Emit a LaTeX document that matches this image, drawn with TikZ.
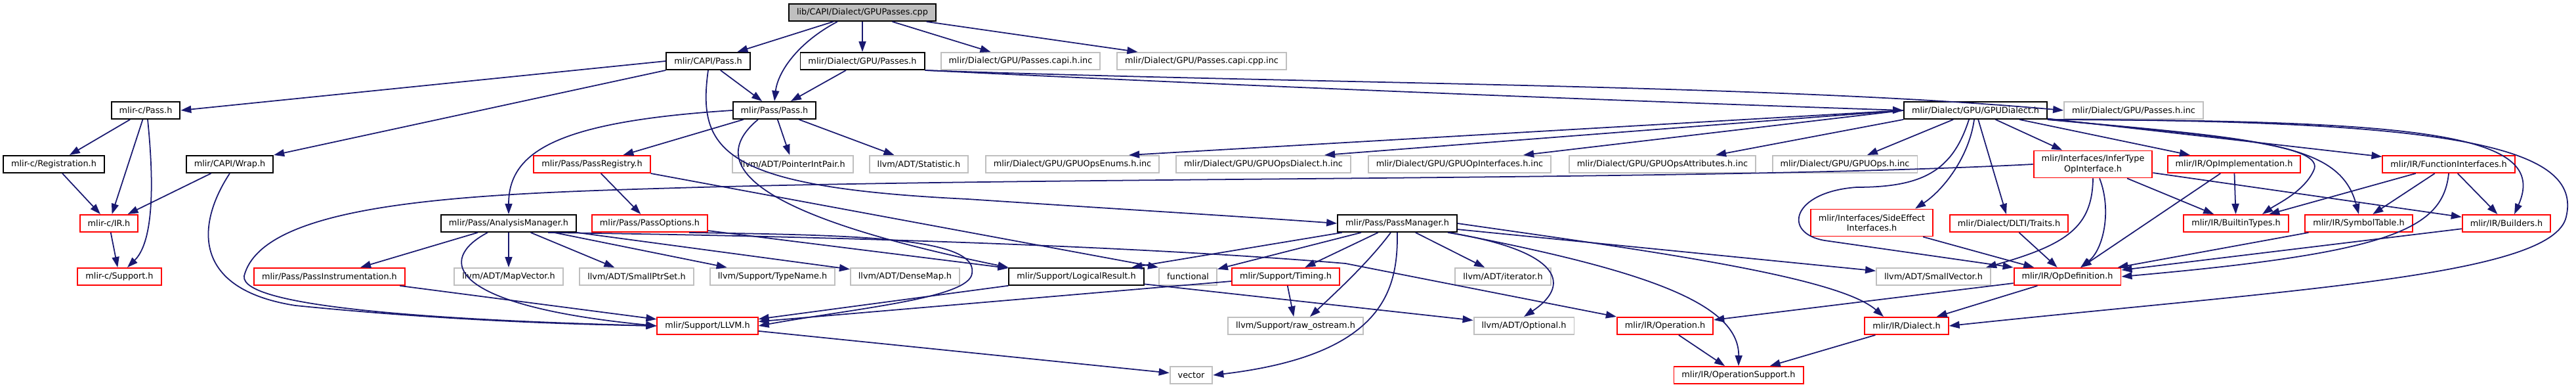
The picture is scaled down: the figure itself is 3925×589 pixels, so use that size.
\documentclass[tikz,border=0pt]{standalone}
\usepackage{fontspec}
\setmainfont{DejaVu Sans}
\usetikzlibrary{arrows.meta}
\definecolor{edgeblue}{HTML}{191970}
\definecolor{boxred}{HTML}{FF0000}
\definecolor{boxgrey}{HTML}{BFBFBF}
\tikzset{
    box_base/.style={rectangle, draw, line width=0.55pt, fill=white, inner xsep=0.12cm, inner ysep=0pt, minimum height=0.26cm, align=center},
    box_black/.style={box_base, draw=black},
    box_red/.style={box_base, draw=boxred},
    box_grey/.style={box_base, draw=boxgrey},
    box_root/.style={box_base, draw=black, fill=boxgrey},
    arrow/.style={-{Triangle[length=1.6mm, width=1.1mm]}, draw=edgeblue, line width=0.5pt}
}
\begin{document}
\begin{tikzpicture}[x=0.01cm, y=-0.01cm, font=\fontsize{3.65pt}{4.3pt}\selectfont]
\useasboundingbox (0,0) rectangle (3925,589);

\node[box_root] (cpp) at (1314,19) {lib/CAPI/Dialect/GPUPasses.cpp};
\node[box_black] (capipass) at (1079,93) {mlir/CAPI/Pass.h};
\node[box_black] (gpupasses) at (1314,93) {mlir/Dialect/GPU/Passes.h};
\node[box_grey] (capih) at (1555,93) {mlir/Dialect/GPU/Passes.capi.h.inc};
\node[box_grey] (capicpp) at (1831,93) {mlir/Dialect/GPU/Passes.capi.cpp.inc};
\node[box_black] (cpass) at (222,168) {mlir-c/Pass.h};
\node[box_black] (pass) at (1180,168) {mlir/Pass/Pass.h};
\node[box_black] (gpudialect) at (3010,168) {mlir/Dialect/GPU/GPUDialect.h};
\node[box_grey] (passesinc) at (3251,168) {mlir/Dialect/GPU/Passes.h.inc};
\node[box_black] (registration) at (82,250) {mlir-c/Registration.h};
\node[box_black] (wrap) at (350,250) {mlir/CAPI/Wrap.h};
\node[box_red] (registry) at (902,250) {mlir/Pass/PassRegistry.h};
\node[box_grey] (pointer) at (1208,250) {llvm/ADT/PointerIntPair.h};
\node[box_grey] (statistic) at (1400,250) {llvm/ADT/Statistic.h};
\node[box_grey] (enums) at (1634,250) {mlir/Dialect/GPU/GPUOpsEnums.h.inc};
\node[box_grey] (opsdialect) at (1925,250) {mlir/Dialect/GPU/GPUOpsDialect.h.inc};
\node[box_grey] (opinterfaces) at (2224,250) {mlir/Dialect/GPU/GPUOpInterfaces.h.inc};
\node[box_grey] (attributes) at (2533,250) {mlir/Dialect/GPU/GPUOpsAttributes.h.inc};
\node[box_grey] (opsinc) at (2811,250) {mlir/Dialect/GPU/GPUOps.h.inc};
\node[box_red, minimum height=0.41cm] (infertype) at (3189,250) {mlir/Interfaces/InferType\\OpInterface.h};
\node[box_red] (opimpl) at (3404,250) {mlir/IR/OpImplementation.h};
\node[box_red] (funcif) at (3731,250) {mlir/IR/FunctionInterfaces.h};
\node[box_red] (cir) at (166,340) {mlir-c/IR.h};
\node[box_black] (analysis) at (775,340) {mlir/Pass/AnalysisManager.h};
\node[box_red] (options) at (990,340) {mlir/Pass/PassOptions.h};
\node[box_black] (passmanager) at (2129,340) {mlir/Pass/PassManager.h};
\node[box_red, minimum height=0.41cm] (sideeffect) at (2852,339) {mlir/Interfaces/SideEffect\\Interfaces.h};
\node[box_red] (dlti) at (3061,340) {mlir/Dialect/DLTI/Traits.h};
\node[box_red] (builtintypes) at (3407,340) {mlir/IR/BuiltinTypes.h};
\node[box_red] (symboltable) at (3594,340) {mlir/IR/SymbolTable.h};
\node[box_red] (builders) at (3819,340) {mlir/IR/Builders.h};
\node[box_red] (csupport) at (182,421) {mlir-c/Support.h};
\node[box_red] (instrumentation) at (502,421) {mlir/Pass/PassInstrumentation.h};
\node[box_grey] (mapvector) at (775,421) {llvm/ADT/MapVector.h};
\node[box_grey] (smallptrset) at (970,421) {llvm/ADT/SmallPtrSet.h};
\node[box_grey] (typename) at (1177,421) {llvm/Support/TypeName.h};
\node[box_grey] (densemap) at (1379,421) {llvm/ADT/DenseMap.h};
\node[box_black] (logical) at (1640,421) {mlir/Support/LogicalResult.h};
\node[box_grey] (functional) at (1810,421) {functional};
\node[box_red] (timing) at (1959,421) {mlir/Support/Timing.h};
\node[box_grey] (iterator) at (2290,421) {llvm/ADT/iterator.h};
\node[box_grey] (smallvector) at (2946,421) {llvm/ADT/SmallVector.h};
\node[box_red] (opdef) at (3150,421) {mlir/IR/OpDefinition.h};
\node[box_red] (llvm) at (1078,496) {mlir/Support/LLVM.h};
\node[box_grey] (rawostream) at (1974,496) {llvm/Support/raw\_ostream.h};
\node[box_grey] (optional) at (2322,496) {llvm/ADT/Optional.h};
\node[box_red] (operation) at (2537,496) {mlir/IR/Operation.h};
\node[box_red] (dialect) at (2905,496) {mlir/IR/Dialect.h};
\node[box_grey] (vector) at (1815,571) {vector};
\node[box_red] (opsupport) at (2649,571) {mlir/IR/OperationSupport.h};

\draw[arrow] (cpp) -- (capipass);
\draw[arrow] ([xshift=-0.38cm]cpp.south) .. controls (1215,65) and (1185,110) .. (pass.north);
\draw[arrow] (cpp) -- (gpupasses);
\draw[arrow] (cpp) -- (capih);
\draw[arrow] (cpp) -- (capicpp);

\draw[arrow] (capipass.west) -- (cpass.east);
\draw[arrow] (capipass.south west) -- (wrap.north east);
\draw[arrow] (capipass) -- (pass);
\draw[arrow] (capipass.south) .. controls (1062,230) and (1100,285) .. (1474,303) .. controls (1700,318) and (1900,330) .. (passmanager.west);
\draw[arrow] (gpupasses) -- (pass);
\draw[arrow] (gpupasses.south east) .. controls (2000,128) and (2700,128) .. (passesinc.west);
\draw[arrow] (gpupasses.south east) .. controls (2000,136) and (2600,158) .. (gpudialect.west);

\draw[arrow] (cpass) -- (registration);
\draw[arrow] (cpass) -- (cir);
\draw[arrow] ([xshift=0.03cm]cpass.south) .. controls (236,290) and (232,370) .. ([xshift=0.12cm]csupport.north);
\draw[arrow] (registration) -- (cir);
\draw[arrow] (wrap) -- (cir);
\draw[arrow] (wrap.south) .. controls (300,340) and (290,440) .. (450,465) .. controls (700,490) and (900,494) .. (llvm.west);
\draw[arrow] (cir) -- (csupport);

\draw[arrow] (pass.west) .. controls (850,185) and (775,230) .. (analysis.north);
\draw[arrow] (pass) -- (registry);
\draw[arrow] (pass) -- (pointer);
\draw[arrow] (pass) -- (statistic);
\draw[arrow] ([xshift=-0.25cm]pass.south) .. controls (1085,240) and (1110,320) .. (logical.north west);

\draw[arrow] (registry) -- (options);
\draw[arrow] (registry.south east) -- (functional.north west);
\draw[arrow] (options) -- (logical);
\draw[arrow] ([xshift=0.6cm]options.south) .. controls (1300,358) and (1500,360) .. (1480,420) .. controls (1465,455) and (1300,470) .. (llvm.east);

\draw[arrow] (analysis) -- (instrumentation);
\draw[arrow] (analysis) -- (mapvector);
\draw[arrow] (analysis) -- (smallptrset);
\draw[arrow] (analysis) -- (typename);
\draw[arrow] (analysis) -- (densemap);
\draw[arrow] ([xshift=-0.32cm]analysis.south) .. controls (665,395) and (680,465) .. (llvm.west);
\draw[arrow] ([xshift=0.6cm]analysis.south) .. controls (1300,360) and (1750,376) .. (2050,401) -- (operation.north west);
\draw[arrow] (instrumentation) -- (llvm);

\draw[arrow] (passmanager) -- (logical);
\draw[arrow] (passmanager) -- (functional);
\draw[arrow] (passmanager) -- (timing);
\draw[arrow] (passmanager) -- (iterator);
\draw[arrow] (passmanager) -- (smallvector);
\draw[arrow] ([xshift=-0.1cm]passmanager.south) .. controls (2085,400) and (2030,450) .. ([xshift=0.22cm]rawostream.north);
\draw[arrow] (passmanager.south) .. controls (2130,440) and (2110,540) .. (vector.east);
\draw[arrow] ([xshift=0.77cm]passmanager.south) .. controls (2370,380) and (2400,430) .. (optional.north);
\draw[arrow] ([xshift=0.8cm]passmanager.south) .. controls (2500,410) and (2650,460) .. (opsupport.north);
\draw[arrow] (passmanager.east) .. controls (2500,380) and (2800,420) .. ([xshift=-0.35cm]dialect.north);

\draw[arrow] (logical) -- (llvm);
\draw[arrow] (logical) -- (optional);
\draw[arrow] (timing) -- (llvm);
\draw[arrow] (timing) -- (rawostream);
\draw[arrow] (llvm) -- (vector);
\draw[arrow] (operation) -- (opsupport);
\draw[arrow] (dialect) -- (opsupport);

\draw[arrow] (gpudialect.west) -- ([xshift=0.86cm]enums.north);
\draw[arrow] (gpudialect.west) -- ([xshift=0.93cm]opsdialect.north);
\draw[arrow] (gpudialect.west) -- ([xshift=0.97cm]opinterfaces.north);
\draw[arrow] (gpudialect.south west) -- ([xshift=0.81cm]attributes.north);
\draw[arrow] (gpudialect) -- (opsinc);
\draw[arrow] (gpudialect) -- (infertype);
\draw[arrow] (gpudialect) -- (opimpl);
\draw[arrow] (gpudialect) -- (funcif);
\draw[arrow] (gpudialect) -- (dlti);
\draw[arrow] ([xshift=-0.02cm]gpudialect.south) .. controls (3000,240) and (2960,290) .. ([xshift=0.66cm]sideeffect.north);
\draw[arrow] ([xshift=-0.1cm]gpudialect.south) .. controls (2975,260) and (2930,285) .. (2829,285) .. controls (2730,292) and (2715,355) .. (2780,366) -- (opdef.north west);
\draw[arrow] (gpudialect.south east) .. controls (3400,208) and (3545,222) .. (3525,260) .. controls (3510,292) and (3470,310) .. ([xshift=0.4cm]builtintypes.north);
\draw[arrow] (gpudialect.south east) .. controls (3450,212) and (3565,218) .. (symboltable.north);
\draw[arrow] (gpudialect.south east) .. controls (3700,183) and (3885,205) .. ([xshift=0.12cm]builders.north);
\draw[arrow] (gpudialect.south east) .. controls (3750,183) and (3935,225) .. (3910,330) .. controls (3890,420) and (3500,440) .. (dialect.east);

\draw[arrow] (infertype.west) .. controls (2600,276) and (1600,268) .. (1000,287) .. controls (700,296) and (400,310) .. (372,420) .. controls (365,470) and (700,488) .. (llvm.west);
\draw[arrow] (infertype.south) .. controls (3188,345) and (3150,372) .. ([xshift=0.8cm]smallvector.north);
\draw[arrow] ([xshift=0.1cm]infertype.south) .. controls (3218,320) and (3205,380) .. ([xshift=0.2cm]opdef.north);
\draw[arrow] (infertype) -- (builtintypes);
\draw[arrow] (infertype) -- (builders);
\draw[arrow] (opimpl) -- (builtintypes);
\draw[arrow] (opimpl) -- (opdef);
\draw[arrow] (funcif) -- (builtintypes);
\draw[arrow] (funcif) -- (symboltable);
\draw[arrow] (funcif) -- (builders);
\draw[arrow] (funcif.south) .. controls (3722,350) and (3640,385) .. (opdef.east);
\draw[arrow] (sideeffect) -- (opdef);
\draw[arrow] (dlti) -- (opdef);
\draw[arrow] (symboltable) -- (opdef);
\draw[arrow] (builders) -- (opdef);
\draw[arrow] (opdef) -- (operation);
\draw[arrow] (opdef) -- (dialect);
\end{tikzpicture}
\end{document}
